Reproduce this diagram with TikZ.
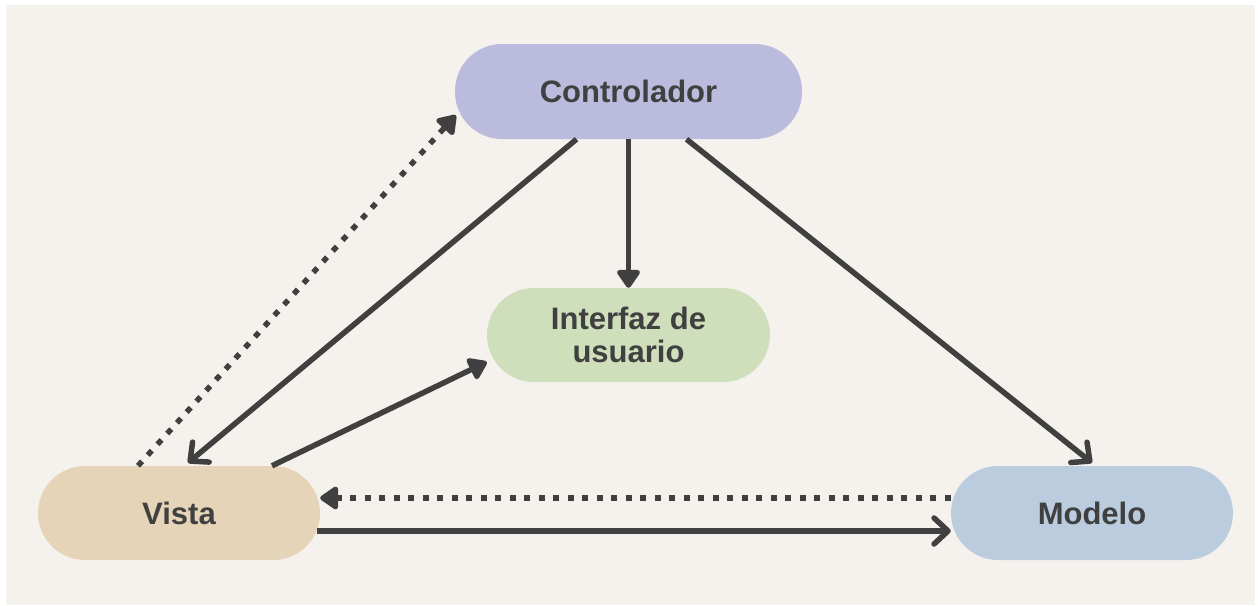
\documentclass[tikz,border=0pt]{standalone}
\usepackage{fontspec}
\setmainfont{Liberation Sans}
\usetikzlibrary{arrows.meta,calc}
\definecolor{bgc}{HTML}{F5F2ED}
\definecolor{ink}{HTML}{404040}
\definecolor{ctrl}{HTML}{BBBBDD}
\definecolor{ui}{HTML}{CFDEBB}
\definecolor{vis}{HTML}{E6D4B9}
\definecolor{mod}{HTML}{BBCCDF}
\begin{document}
\begin{tikzpicture}[x=1pt,y=1pt,
  box/.style={rectangle,rounded corners=47pt,minimum height=94pt,inner sep=0pt,
    text=ink,font=\fontsize{31}{33}\selectfont\bfseries,align=center},
  conn/.style={draw=ink,line width=5.5pt},
  tri/.style={-{Triangle[length=20pt,width=26pt,round]}},
  barb/.style={-{Straight Barb[length=14pt,width=26pt,round]}},
  dots/.style={dash pattern=on 6pt off 8.5pt}]
\useasboundingbox (0,0) rectangle (1258,-605);
\fill[white] (0,0) rectangle (1258,-605);
\fill[bgc] (6,-5) rectangle (1255,-605);
\node[box,fill=ctrl,minimum width=347pt,minimum height=95pt] (C) at (628.5,-91.5) {Controlador};
\node[box,fill=ui,minimum width=283pt] (I) at (628.5,-335) {Interfaz de\\usuario};
\node[box,fill=vis,minimum width=282pt] (V) at (179,-513) {Vista};
\node[box,fill=mod,minimum width=282pt] (M) at (1092,-513) {Modelo};
\draw[conn,tri] (C.south) -- (I.north);
\draw[conn,barb] ([xshift=-52pt]C.south) -- ([xshift=9pt,yshift=3pt]V.north);
\draw[conn,barb] ([xshift=58pt]C.south) -- ([yshift=3pt]M.north);
\draw[conn,tri,dots] ([xshift=-41pt]V.north) -- ([xshift=1pt,yshift=24pt]C.south west);
\draw[conn,tri] ([xshift=93pt]V.north) -- ([yshift=-27pt]I.west);
\draw[conn,tri,dots] ([yshift=15pt]M.west) -- ([yshift=15pt]V.east);
\draw[conn,barb] ([xshift=-3pt,yshift=-18pt]V.east) -- ([yshift=-18pt]M.west);
\end{tikzpicture}
\end{document}
